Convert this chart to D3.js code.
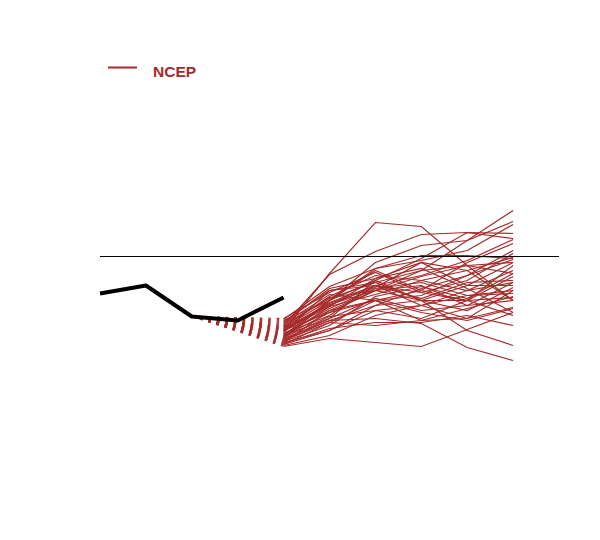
<!DOCTYPE html>
<html>
<head>
<meta charset="utf-8">
<script src="https://cdn.jsdelivr.net/npm/d3@7"></script>
<style>
  html, body { margin: 0; padding: 0; background: #fff; }
</style>
</head>
<body>
<svg id="chart" width="600" height="540"></svg>
<script>
// ---- data ----
const steps = [0, 1, 2, 3, 4, 5, 6, 7, 8, 9];
const observed = [-0.37, -0.29, -0.60, -0.64, -0.41];        // steps 0..4
const forecastSteps = [4, 5, 6, 7, 8, 9];
const hindcastFrom = 2;                                       // dashed lines start here
const members = [
  [-0.74, -0.17, 0.34, 0.30, -0.09, -0.44],
  [-0.69, -0.18, 0.05, 0.22, 0.24, 0.18],
  [-0.82, -0.44, -0.06, 0.11, 0.16, 0.46],
  [-0.86, -0.54, -0.34, -0.14, 0.16, 0.35],
  [-0.64, -0.44, -0.12, -0.04, 0.06, 0.32],
  [-0.79, -0.62, -0.24, -0.02, 0.24, 0.23],
  [-0.72, -0.49, -0.29, -0.19, -0.04, 0.17],
  [-0.84, -0.66, -0.44, -0.34, -0.06, 0.13],
  [-0.76, -0.34, -0.29, -0.36, -0.24, 0.03],
  [-0.70, -0.40, -0.19, -0.24, -0.14, -0.01],
  [-0.88, -0.74, -0.49, -0.32, -0.19, -0.03],
  [-0.66, -0.32, -0.22, -0.06, -0.29, -0.06],
  [-0.80, -0.56, -0.34, -0.44, -0.44, -0.09],
  [-0.74, -0.50, -0.38, -0.24, -0.34, -0.14],
  [-0.85, -0.69, -0.40, -0.30, -0.42, -0.17],
  [-0.62, -0.36, -0.16, -0.36, -0.44, -0.20],
  [-0.77, -0.59, -0.29, -0.42, -0.26, -0.24],
  [-0.73, -0.48, -0.34, -0.29, -0.49, -0.26],
  [-0.82, -0.64, -0.49, -0.44, -0.29, -0.29],
  [-0.68, -0.42, -0.26, -0.44, -0.54, -0.31],
  [-0.78, -0.52, -0.32, -0.26, -0.39, -0.34],
  [-0.89, -0.79, -0.59, -0.49, -0.39, -0.37],
  [-0.71, -0.44, -0.14, -0.34, -0.44, -0.41],
  [-0.83, -0.62, -0.42, -0.54, -0.49, -0.44],
  [-0.75, -0.46, -0.29, -0.49, -0.62, -0.51],
  [-0.90, -0.82, -0.86, -0.90, -0.73, -0.56],
  [-0.67, -0.38, -0.44, -0.56, -0.64, -0.52],
  [-0.81, -0.60, -0.54, -0.62, -0.44, -0.59],
  [-0.87, -0.72, -0.66, -0.66, -0.59, -0.69],
  [-0.79, -0.44, -0.24, -0.44, -0.74, -0.89],
  [-0.84, -0.64, -0.62, -0.67, -0.91, -1.04],
  [-0.65, -0.34, -0.26, -0.14, -0.09, -0.17],
  [-0.74, -0.56, -0.44, -0.39, -0.19, 0.06],
  [-0.88, -0.66, -0.69, -0.64, -0.52, -0.40],
  [-0.70, -0.41, -0.34, -0.20, -0.09, -0.06],
  [-0.80, -0.50, -0.22, -0.12, -0.32, -0.56],
  [-0.63, -0.30, -0.12, 0.01, 0.01, -0.02],
  [-0.86, -0.74, -0.54, -0.49, -0.34, -0.26],
  [-0.77, -0.54, -0.44, -0.64, -0.62, -0.34],
  [-0.72, -0.47, -0.31, -0.06, -0.14, -0.44]
];
const legendLabel = "NCEP";
const memberColor = "#a52a2a";

// ---- chart ----
const svg = d3.select("#chart");
svg.append("rect").attr("width", 600).attr("height", 540).attr("fill", "#fff");

const x = d3.scaleLinear().domain([0, 10]).range([100, 559]);
const y = d3.scaleLinear().domain([-1, 1]).range([356.5, 156.5]);

const line = d3.line().x(d => x(d[0])).y(d => y(d[1]));

// dashed hindcast links: from observed at step 2 to each member's first value
const gDash = svg.append("g");
members.forEach(m => {
  gDash.append("path")
    .attr("d", line([[hindcastFrom, observed[hindcastFrom]], [forecastSteps[0], m[0]]]))
    .attr("fill", "none")
    .attr("stroke", memberColor)
    .attr("stroke-width", 1.1)
    .attr("stroke-dasharray", "2.5,6");
});

// ensemble members
const gMem = svg.append("g");
members.forEach(m => {
  gMem.append("path")
    .attr("d", line(m.map((v, i) => [forecastSteps[i], v])))
    .attr("fill", "none")
    .attr("stroke", memberColor)
    .attr("stroke-width", 1.2);
});

// zero line
svg.append("line")
  .attr("x1", x(0)).attr("x2", x(10))
  .attr("y1", y(0)).attr("y2", y(0))
  .attr("stroke", "#000").attr("stroke-width", 1.2);

// observed
svg.append("path")
  .attr("d", line(observed.map((v, i) => [steps[i], v])))
  .attr("fill", "none")
  .attr("stroke", "#000")
  .attr("stroke-width", 4)
  .attr("stroke-linejoin", "round");

// legend
const lg = svg.append("g");
lg.append("line")
  .attr("x1", 108).attr("x2", 137).attr("y1", 67.5).attr("y2", 67.5)
  .attr("stroke", memberColor).attr("stroke-width", 2);
lg.append("text")
  .attr("x", 153).attr("y", 76.5)
  .attr("fill", memberColor)
  .attr("font-family", "Liberation Sans, Arial, sans-serif")
  .attr("font-weight", "bold")
  .attr("font-size", 15.5)
  .text(legendLabel);
</script>
</body>
</html>
